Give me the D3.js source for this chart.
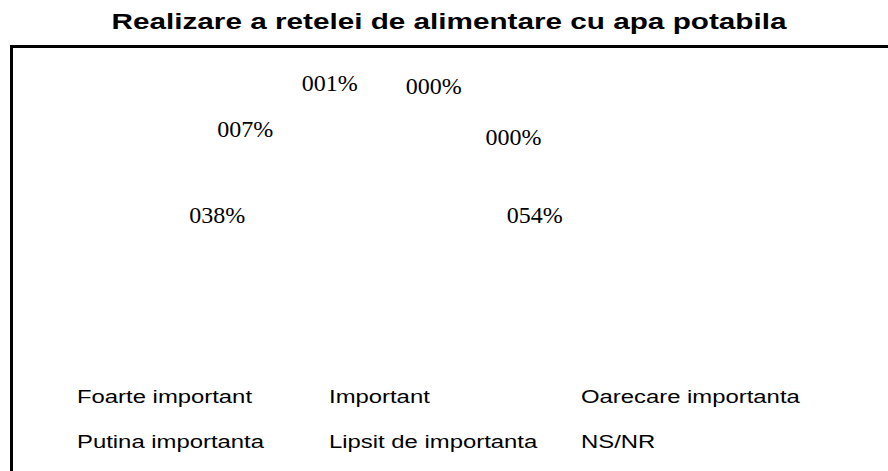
<!DOCTYPE html>
<html>
<head>
<meta charset="utf-8">
<script src="https://cdn.jsdelivr.net/npm/d3@7"></script>
<style>
  body { margin: 0; background: #fff; }
</style>
</head>
<body>
<svg id="chart"></svg>
<script>
const title = "Realizare a retelei de alimentare cu apa potabila";
const categories = ["Foarte important", "Important", "Oarecare importanta", "Putina importanta", "Lipsit de importanta", "NS/NR"];
const values = [54, 38, 7, 1, 0, 0];

const width = 888, height = 471;
const cx = 376, cy = 199, rx = 160, ry = 122, pieR = 120;

const svg = d3.select("#chart")
  .attr("width", width)
  .attr("height", height);

svg.append("rect")
  .attr("width", width).attr("height", height)
  .attr("fill", "#fff");

// title - the original font runs wide, so stretch it
svg.append("text")
  .attr("transform", "translate(449,28.5) scale(1.35,1)")
  .attr("text-anchor", "middle")
  .attr("font-family", "Liberation Sans, Arial, sans-serif")
  .attr("font-weight", "bold")
  .attr("font-size", 22)
  .text(title);

// chart frame (right and bottom edges fall outside the page)
svg.append("rect")
  .attr("x", 11.5).attr("y", 46.5)
  .attr("width", width + 20).attr("height", height)
  .attr("fill", "none")
  .attr("stroke", "#000")
  .attr("stroke-width", 3);

const pie = d3.pie().sort(null).value(d => d);
const arcs = pie(values);
const arc = d3.arc().innerRadius(0).outerRadius(pieR);

const g = svg.append("g").attr("transform", `translate(${cx},${cy})`);

// slices are white, as in the original
g.selectAll("path")
  .data(arcs)
  .join("path")
  .attr("d", arc)
  .attr("fill", "#fff");

// label angles: big slices keep theirs, small ones get pushed apart (mostly clockwise)
let labels = arcs.map((a, i) => {
  let ang = (a.startAngle + a.endAngle) / 2;
  if (ang > Math.PI) ang -= 2 * Math.PI;
  return { i, ang, fixed: values[i] >= 10 };
}).sort((a, b) => a.ang - b.ang);

const minGap = 38 * Math.PI / 180;
const back = 0.3;
for (let k = 0; k < 300; k++) {
  for (let j = 0; j < labels.length - 1; j++) {
    const a = labels[j], b = labels[j + 1];
    const d = b.ang - a.ang;
    if (d >= minGap) continue;
    const deficit = minGap - d;
    if (a.fixed && b.fixed) continue;
    if (a.fixed) b.ang += deficit;
    else if (b.fixed) a.ang -= deficit;
    else { a.ang -= deficit * back; b.ang += deficit * (1 - back); }
  }
}

const fmt = d3.format("03d");
g.selectAll("text.lbl")
  .data(labels)
  .join("text")
  .attr("class", "lbl")
  .attr("x", d => rx * Math.sin(d.ang))
  .attr("y", d => -ry * Math.cos(d.ang))
  .attr("dy", "0.35em")
  .attr("text-anchor", "middle")
  .attr("font-family", "Liberation Serif, Times New Roman, serif")
  .attr("font-size", 24)
  .text(d => fmt(values[d.i]) + "%");

// legend (markers are white too)
const col = d3.scaleLinear().domain([0, 1]).range([77, 329]);
const row = d3.scaleLinear().domain([0, 1]).range([397, 442]);

const leg = svg.append("g")
  .selectAll("g")
  .data(categories)
  .join("g")
  .attr("transform", (d, i) => `translate(${col(i % 3)},${row(Math.floor(i / 3))})`);

leg.append("rect")
  .attr("x", -18).attr("y", -6)
  .attr("width", 11).attr("height", 11)
  .attr("fill", "#fff");

leg.append("text")
  .attr("transform", "scale(1.29,1)")
  .attr("dy", "0.35em")
  .attr("font-family", "Liberation Sans, Arial, sans-serif")
  .attr("font-size", 18.5)
  .text(d => d);
</script>
</body>
</html>
